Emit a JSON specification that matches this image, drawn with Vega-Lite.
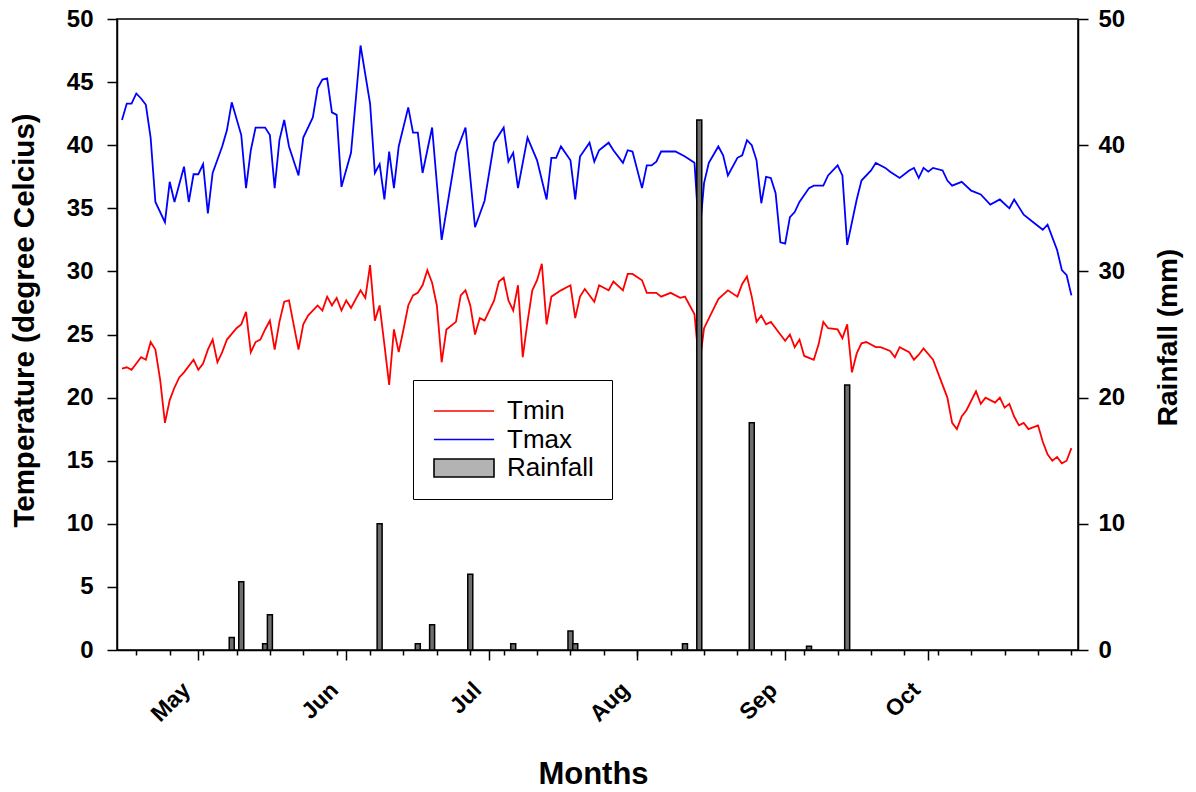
{
"$schema": "https://vega.github.io/schema/vega-lite/v6.json",
"width": 961, "height": 631,
"autosize": "none",
"padding": {"left": 117, "top": 19, "right": 118, "bottom": 142},
"background": "white",
"config": {
  "font": "Liberation Sans",
  "view": {"stroke": "black", "strokeWidth": 1.5},
  "axis": {"domainColor": "black", "tickColor": "black", "domainWidth": 1.5, "tickWidth": 1.5, "labelColor": "black", "titleColor": "black", "grid": false}
},
"datasets": {
"temps": [
{"date":"2019-04-15","series":"Tmax","value":42.0},{"date":"2019-04-16","series":"Tmax","value":43.3},{"date":"2019-04-17","series":"Tmax","value":43.3},{"date":"2019-04-18","series":"Tmax","value":44.1},{"date":"2019-04-19","series":"Tmax","value":43.7},{"date":"2019-04-20","series":"Tmax","value":43.2},{"date":"2019-04-21","series":"Tmax","value":40.6},{"date":"2019-04-22","series":"Tmax","value":35.5},{"date":"2019-04-24","series":"Tmax","value":33.9},{"date":"2019-04-25","series":"Tmax","value":37.1},{"date":"2019-04-26","series":"Tmax","value":35.5},{"date":"2019-04-28","series":"Tmax","value":38.3},{"date":"2019-04-29","series":"Tmax","value":35.5},{"date":"2019-04-30","series":"Tmax","value":37.7},
{"date":"2019-05-01","series":"Tmax","value":37.7},{"date":"2019-05-02","series":"Tmax","value":38.5},{"date":"2019-05-03","series":"Tmax","value":34.6},{"date":"2019-05-04","series":"Tmax","value":37.8},{"date":"2019-05-06","series":"Tmax","value":39.9},{"date":"2019-05-07","series":"Tmax","value":41.2},{"date":"2019-05-08","series":"Tmax","value":43.4},{"date":"2019-05-10","series":"Tmax","value":40.8},{"date":"2019-05-11","series":"Tmax","value":36.6},{"date":"2019-05-12","series":"Tmax","value":39.6},{"date":"2019-05-13","series":"Tmax","value":41.4},{"date":"2019-05-14","series":"Tmax","value":41.4},{"date":"2019-05-15","series":"Tmax","value":41.4},{"date":"2019-05-16","series":"Tmax","value":40.8},{"date":"2019-05-17","series":"Tmax","value":36.6},{"date":"2019-05-18","series":"Tmax","value":40.4},{"date":"2019-05-19","series":"Tmax","value":42.0},{"date":"2019-05-20","series":"Tmax","value":39.9},{"date":"2019-05-22","series":"Tmax","value":37.6},{"date":"2019-05-23","series":"Tmax","value":40.6},{"date":"2019-05-25","series":"Tmax","value":42.2},{"date":"2019-05-26","series":"Tmax","value":44.5},{"date":"2019-05-27","series":"Tmax","value":45.2},{"date":"2019-05-28","series":"Tmax","value":45.3},{"date":"2019-05-29","series":"Tmax","value":42.6},{"date":"2019-05-30","series":"Tmax","value":42.4},{"date":"2019-05-31","series":"Tmax","value":36.7},
{"date":"2019-06-02","series":"Tmax","value":39.4},{"date":"2019-06-03","series":"Tmax","value":43.6},{"date":"2019-06-04","series":"Tmax","value":47.9},{"date":"2019-06-06","series":"Tmax","value":43.3},{"date":"2019-06-07","series":"Tmax","value":37.8},{"date":"2019-06-08","series":"Tmax","value":38.5},{"date":"2019-06-09","series":"Tmax","value":35.7},{"date":"2019-06-10","series":"Tmax","value":39.5},{"date":"2019-06-11","series":"Tmax","value":36.6},{"date":"2019-06-12","series":"Tmax","value":39.9},{"date":"2019-06-14","series":"Tmax","value":43.0},{"date":"2019-06-15","series":"Tmax","value":41.0},{"date":"2019-06-16","series":"Tmax","value":41.0},{"date":"2019-06-17","series":"Tmax","value":37.8},{"date":"2019-06-19","series":"Tmax","value":41.4},{"date":"2019-06-21","series":"Tmax","value":32.5},{"date":"2019-06-24","series":"Tmax","value":39.4},{"date":"2019-06-26","series":"Tmax","value":41.4},{"date":"2019-06-28","series":"Tmax","value":33.5},{"date":"2019-06-30","series":"Tmax","value":35.6},
{"date":"2019-07-02","series":"Tmax","value":40.2},{"date":"2019-07-04","series":"Tmax","value":41.4},{"date":"2019-07-05","series":"Tmax","value":38.7},{"date":"2019-07-06","series":"Tmax","value":39.4},{"date":"2019-07-07","series":"Tmax","value":36.6},{"date":"2019-07-09","series":"Tmax","value":40.6},{"date":"2019-07-11","series":"Tmax","value":38.8},{"date":"2019-07-13","series":"Tmax","value":35.7},{"date":"2019-07-14","series":"Tmax","value":39.0},{"date":"2019-07-15","series":"Tmax","value":39.0},{"date":"2019-07-16","series":"Tmax","value":39.9},{"date":"2019-07-18","series":"Tmax","value":38.8},{"date":"2019-07-19","series":"Tmax","value":35.7},{"date":"2019-07-20","series":"Tmax","value":39.1},{"date":"2019-07-22","series":"Tmax","value":40.2},{"date":"2019-07-23","series":"Tmax","value":38.7},{"date":"2019-07-24","series":"Tmax","value":39.6},{"date":"2019-07-26","series":"Tmax","value":40.2},{"date":"2019-07-27","series":"Tmax","value":39.6},{"date":"2019-07-29","series":"Tmax","value":38.6},{"date":"2019-07-30","series":"Tmax","value":39.6},{"date":"2019-07-31","series":"Tmax","value":39.5},
{"date":"2019-08-02","series":"Tmax","value":36.6},{"date":"2019-08-03","series":"Tmax","value":38.4},{"date":"2019-08-04","series":"Tmax","value":38.4},{"date":"2019-08-05","series":"Tmax","value":38.7},{"date":"2019-08-06","series":"Tmax","value":39.5},{"date":"2019-08-08","series":"Tmax","value":39.5},{"date":"2019-08-09","series":"Tmax","value":39.5},{"date":"2019-08-11","series":"Tmax","value":39.1},{"date":"2019-08-13","series":"Tmax","value":38.6},{"date":"2019-08-14","series":"Tmax","value":32.7},{"date":"2019-08-15","series":"Tmax","value":37.0},{"date":"2019-08-16","series":"Tmax","value":38.6},{"date":"2019-08-18","series":"Tmax","value":39.9},{"date":"2019-08-19","series":"Tmax","value":39.2},{"date":"2019-08-20","series":"Tmax","value":37.6},{"date":"2019-08-22","series":"Tmax","value":39.0},{"date":"2019-08-23","series":"Tmax","value":39.2},{"date":"2019-08-24","series":"Tmax","value":40.4},{"date":"2019-08-25","series":"Tmax","value":40.0},{"date":"2019-08-26","series":"Tmax","value":38.8},{"date":"2019-08-27","series":"Tmax","value":35.4},{"date":"2019-08-28","series":"Tmax","value":37.5},{"date":"2019-08-29","series":"Tmax","value":37.4},{"date":"2019-08-30","series":"Tmax","value":36.2},{"date":"2019-08-31","series":"Tmax","value":32.3},
{"date":"2019-09-01","series":"Tmax","value":32.2},{"date":"2019-09-02","series":"Tmax","value":34.3},{"date":"2019-09-03","series":"Tmax","value":34.7},{"date":"2019-09-04","series":"Tmax","value":35.5},{"date":"2019-09-06","series":"Tmax","value":36.6},{"date":"2019-09-07","series":"Tmax","value":36.8},{"date":"2019-09-09","series":"Tmax","value":36.8},{"date":"2019-09-10","series":"Tmax","value":37.6},{"date":"2019-09-12","series":"Tmax","value":38.4},{"date":"2019-09-13","series":"Tmax","value":37.6},{"date":"2019-09-14","series":"Tmax","value":32.1},{"date":"2019-09-16","series":"Tmax","value":35.7},{"date":"2019-09-17","series":"Tmax","value":37.2},{"date":"2019-09-19","series":"Tmax","value":38.0},{"date":"2019-09-20","series":"Tmax","value":38.6},{"date":"2019-09-22","series":"Tmax","value":38.2},{"date":"2019-09-23","series":"Tmax","value":37.9},{"date":"2019-09-25","series":"Tmax","value":37.4},{"date":"2019-09-27","series":"Tmax","value":38.0},{"date":"2019-09-28","series":"Tmax","value":38.2},{"date":"2019-09-29","series":"Tmax","value":37.4},{"date":"2019-09-30","series":"Tmax","value":38.2},
{"date":"2019-10-01","series":"Tmax","value":37.9},{"date":"2019-10-02","series":"Tmax","value":38.2},{"date":"2019-10-04","series":"Tmax","value":38.0},{"date":"2019-10-05","series":"Tmax","value":37.2},{"date":"2019-10-06","series":"Tmax","value":36.8},{"date":"2019-10-08","series":"Tmax","value":37.1},{"date":"2019-10-10","series":"Tmax","value":36.4},{"date":"2019-10-12","series":"Tmax","value":36.1},{"date":"2019-10-14","series":"Tmax","value":35.3},{"date":"2019-10-16","series":"Tmax","value":35.7},{"date":"2019-10-18","series":"Tmax","value":35.0},{"date":"2019-10-19","series":"Tmax","value":35.7},{"date":"2019-10-21","series":"Tmax","value":34.5},{"date":"2019-10-23","series":"Tmax","value":33.9},{"date":"2019-10-25","series":"Tmax","value":33.3},{"date":"2019-10-26","series":"Tmax","value":33.7},{"date":"2019-10-28","series":"Tmax","value":31.7},{"date":"2019-10-29","series":"Tmax","value":30.1},{"date":"2019-10-30","series":"Tmax","value":29.7},{"date":"2019-10-31","series":"Tmax","value":28.1},
{"date":"2019-04-15","series":"Tmin","value":22.3},{"date":"2019-04-16","series":"Tmin","value":22.4},{"date":"2019-04-17","series":"Tmin","value":22.2},{"date":"2019-04-18","series":"Tmin","value":22.7},{"date":"2019-04-19","series":"Tmin","value":23.2},{"date":"2019-04-20","series":"Tmin","value":23.0},{"date":"2019-04-21","series":"Tmin","value":24.4},{"date":"2019-04-22","series":"Tmin","value":23.8},{"date":"2019-04-23","series":"Tmin","value":21.4},{"date":"2019-04-24","series":"Tmin","value":18.0},{"date":"2019-04-25","series":"Tmin","value":19.8},{"date":"2019-04-26","series":"Tmin","value":20.8},{"date":"2019-04-27","series":"Tmin","value":21.6},{"date":"2019-04-28","series":"Tmin","value":22.0},{"date":"2019-04-30","series":"Tmin","value":23.0},
{"date":"2019-05-01","series":"Tmin","value":22.2},{"date":"2019-05-02","series":"Tmin","value":22.7},{"date":"2019-05-03","series":"Tmin","value":23.8},{"date":"2019-05-04","series":"Tmin","value":24.6},{"date":"2019-05-05","series":"Tmin","value":22.8},{"date":"2019-05-06","series":"Tmin","value":23.6},{"date":"2019-05-07","series":"Tmin","value":24.6},{"date":"2019-05-09","series":"Tmin","value":25.5},{"date":"2019-05-10","series":"Tmin","value":25.8},{"date":"2019-05-11","series":"Tmin","value":26.8},{"date":"2019-05-12","series":"Tmin","value":23.6},{"date":"2019-05-13","series":"Tmin","value":24.4},{"date":"2019-05-14","series":"Tmin","value":24.6},{"date":"2019-05-15","series":"Tmin","value":25.4},{"date":"2019-05-16","series":"Tmin","value":26.1},{"date":"2019-05-17","series":"Tmin","value":23.8},{"date":"2019-05-18","series":"Tmin","value":26.0},{"date":"2019-05-19","series":"Tmin","value":27.6},{"date":"2019-05-20","series":"Tmin","value":27.7},{"date":"2019-05-22","series":"Tmin","value":23.8},{"date":"2019-05-23","series":"Tmin","value":25.8},{"date":"2019-05-24","series":"Tmin","value":26.5},{"date":"2019-05-26","series":"Tmin","value":27.3},{"date":"2019-05-27","series":"Tmin","value":26.9},{"date":"2019-05-28","series":"Tmin","value":28.0},{"date":"2019-05-29","series":"Tmin","value":27.3},{"date":"2019-05-30","series":"Tmin","value":27.9},{"date":"2019-05-31","series":"Tmin","value":26.9},
{"date":"2019-06-01","series":"Tmin","value":27.7},{"date":"2019-06-02","series":"Tmin","value":27.1},{"date":"2019-06-04","series":"Tmin","value":28.5},{"date":"2019-06-05","series":"Tmin","value":27.9},{"date":"2019-06-06","series":"Tmin","value":30.5},{"date":"2019-06-07","series":"Tmin","value":26.1},{"date":"2019-06-08","series":"Tmin","value":27.3},{"date":"2019-06-09","series":"Tmin","value":24.2},{"date":"2019-06-10","series":"Tmin","value":21.0},{"date":"2019-06-11","series":"Tmin","value":25.4},{"date":"2019-06-12","series":"Tmin","value":23.6},{"date":"2019-06-13","series":"Tmin","value":25.4},{"date":"2019-06-14","series":"Tmin","value":27.3},{"date":"2019-06-15","series":"Tmin","value":28.1},{"date":"2019-06-16","series":"Tmin","value":28.3},{"date":"2019-06-17","series":"Tmin","value":28.9},{"date":"2019-06-18","series":"Tmin","value":30.1},{"date":"2019-06-19","series":"Tmin","value":29.1},{"date":"2019-06-20","series":"Tmin","value":27.3},{"date":"2019-06-21","series":"Tmin","value":22.8},{"date":"2019-06-22","series":"Tmin","value":25.4},{"date":"2019-06-24","series":"Tmin","value":26.0},{"date":"2019-06-25","series":"Tmin","value":28.1},{"date":"2019-06-26","series":"Tmin","value":28.5},{"date":"2019-06-27","series":"Tmin","value":27.3},{"date":"2019-06-28","series":"Tmin","value":25.0},{"date":"2019-06-29","series":"Tmin","value":26.3},{"date":"2019-06-30","series":"Tmin","value":26.1},
{"date":"2019-07-02","series":"Tmin","value":27.7},{"date":"2019-07-03","series":"Tmin","value":29.2},{"date":"2019-07-04","series":"Tmin","value":29.5},{"date":"2019-07-05","series":"Tmin","value":27.7},{"date":"2019-07-06","series":"Tmin","value":26.9},{"date":"2019-07-07","series":"Tmin","value":28.9},{"date":"2019-07-08","series":"Tmin","value":23.2},{"date":"2019-07-09","series":"Tmin","value":26.0},{"date":"2019-07-10","series":"Tmin","value":28.5},{"date":"2019-07-11","series":"Tmin","value":29.3},{"date":"2019-07-12","series":"Tmin","value":30.6},{"date":"2019-07-13","series":"Tmin","value":25.8},{"date":"2019-07-14","series":"Tmin","value":28.0},{"date":"2019-07-16","series":"Tmin","value":28.5},{"date":"2019-07-18","series":"Tmin","value":28.9},{"date":"2019-07-19","series":"Tmin","value":26.3},{"date":"2019-07-20","series":"Tmin","value":28.0},{"date":"2019-07-21","series":"Tmin","value":28.6},{"date":"2019-07-23","series":"Tmin","value":27.6},{"date":"2019-07-24","series":"Tmin","value":28.9},{"date":"2019-07-26","series":"Tmin","value":28.5},{"date":"2019-07-27","series":"Tmin","value":29.2},{"date":"2019-07-29","series":"Tmin","value":28.5},{"date":"2019-07-30","series":"Tmin","value":29.8},{"date":"2019-07-31","series":"Tmin","value":29.8},
{"date":"2019-08-02","series":"Tmin","value":29.3},{"date":"2019-08-03","series":"Tmin","value":28.3},{"date":"2019-08-05","series":"Tmin","value":28.3},{"date":"2019-08-06","series":"Tmin","value":28.0},{"date":"2019-08-08","series":"Tmin","value":28.3},{"date":"2019-08-10","series":"Tmin","value":27.9},{"date":"2019-08-11","series":"Tmin","value":28.0},{"date":"2019-08-13","series":"Tmin","value":26.6},{"date":"2019-08-14","series":"Tmin","value":22.5},{"date":"2019-08-15","series":"Tmin","value":25.5},{"date":"2019-08-18","series":"Tmin","value":27.8},{"date":"2019-08-20","series":"Tmin","value":28.5},{"date":"2019-08-22","series":"Tmin","value":28.0},{"date":"2019-08-23","series":"Tmin","value":29.0},{"date":"2019-08-24","series":"Tmin","value":29.6},{"date":"2019-08-25","series":"Tmin","value":28.0},{"date":"2019-08-26","series":"Tmin","value":26.0},{"date":"2019-08-27","series":"Tmin","value":26.5},{"date":"2019-08-28","series":"Tmin","value":25.8},{"date":"2019-08-29","series":"Tmin","value":26.0},{"date":"2019-08-31","series":"Tmin","value":25.0},
{"date":"2019-09-01","series":"Tmin","value":24.5},{"date":"2019-09-02","series":"Tmin","value":25.0},{"date":"2019-09-03","series":"Tmin","value":24.0},{"date":"2019-09-04","series":"Tmin","value":24.6},{"date":"2019-09-05","series":"Tmin","value":23.3},{"date":"2019-09-07","series":"Tmin","value":23.0},{"date":"2019-09-08","series":"Tmin","value":24.2},{"date":"2019-09-09","series":"Tmin","value":26.0},{"date":"2019-09-10","series":"Tmin","value":25.5},{"date":"2019-09-12","series":"Tmin","value":25.4},{"date":"2019-09-13","series":"Tmin","value":24.7},{"date":"2019-09-14","series":"Tmin","value":25.8},{"date":"2019-09-15","series":"Tmin","value":22.0},{"date":"2019-09-16","series":"Tmin","value":23.5},{"date":"2019-09-17","series":"Tmin","value":24.3},{"date":"2019-09-18","series":"Tmin","value":24.4},{"date":"2019-09-20","series":"Tmin","value":24.0},{"date":"2019-09-21","series":"Tmin","value":24.0},{"date":"2019-09-23","series":"Tmin","value":23.7},{"date":"2019-09-24","series":"Tmin","value":23.2},{"date":"2019-09-25","series":"Tmin","value":24.0},{"date":"2019-09-27","series":"Tmin","value":23.6},{"date":"2019-09-28","series":"Tmin","value":23.0},{"date":"2019-09-29","series":"Tmin","value":23.4},{"date":"2019-09-30","series":"Tmin","value":23.9},
{"date":"2019-10-02","series":"Tmin","value":23.0},{"date":"2019-10-03","series":"Tmin","value":22.0},{"date":"2019-10-05","series":"Tmin","value":20.0},{"date":"2019-10-06","series":"Tmin","value":18.0},{"date":"2019-10-07","series":"Tmin","value":17.5},{"date":"2019-10-08","series":"Tmin","value":18.5},{"date":"2019-10-09","series":"Tmin","value":19.0},{"date":"2019-10-11","series":"Tmin","value":20.5},{"date":"2019-10-12","series":"Tmin","value":19.5},{"date":"2019-10-13","series":"Tmin","value":20.0},{"date":"2019-10-15","series":"Tmin","value":19.6},{"date":"2019-10-16","series":"Tmin","value":20.0},{"date":"2019-10-17","series":"Tmin","value":19.2},{"date":"2019-10-18","series":"Tmin","value":19.5},{"date":"2019-10-19","series":"Tmin","value":18.5},{"date":"2019-10-20","series":"Tmin","value":17.8},{"date":"2019-10-21","series":"Tmin","value":18.0},{"date":"2019-10-22","series":"Tmin","value":17.5},{"date":"2019-10-24","series":"Tmin","value":17.8},{"date":"2019-10-25","series":"Tmin","value":16.5},{"date":"2019-10-26","series":"Tmin","value":15.5},{"date":"2019-10-27","series":"Tmin","value":15.0},{"date":"2019-10-28","series":"Tmin","value":15.3},{"date":"2019-10-29","series":"Tmin","value":14.8},{"date":"2019-10-30","series":"Tmin","value":15.0},{"date":"2019-10-31","series":"Tmin","value":16.0}
],
"rain": [
{"date":"2019-05-08","rain":1.0},{"date":"2019-05-10","rain":5.4},{"date":"2019-05-15","rain":0.5},{"date":"2019-05-16","rain":2.8},{"date":"2019-06-08","rain":10.0},{"date":"2019-06-16","rain":0.5},{"date":"2019-06-19","rain":2.0},{"date":"2019-06-27","rain":6.0},{"date":"2019-07-06","rain":0.5},{"date":"2019-07-18","rain":1.5},{"date":"2019-07-19","rain":0.5},{"date":"2019-08-11","rain":0.5},{"date":"2019-08-14","rain":42.0},{"date":"2019-08-25","rain":18.0},{"date":"2019-09-06","rain":0.3},{"date":"2019-09-14","rain":21.0}
]
},
"layer": [
{
  "data": {"name": "temps"},
  "mark": {"type": "line", "strokeWidth": 1.8},
  "encoding": {
    "x": {"field": "date", "type": "temporal",
      "scale": {"type": "utc", "domain": [{"year": 2019, "month": 4, "date": 15, "utc": true}, {"year": 2019, "month": 10, "date": 31, "hours": 8, "utc": true}]},
      "axis": {"orient": "bottom", "format": "%b",
        "values": [{"year":2019,"month":5,"date":1,"utc":true},{"year":2019,"month":6,"date":1,"utc":true},{"year":2019,"month":7,"date":1,"utc":true},{"year":2019,"month":8,"date":1,"utc":true},{"year":2019,"month":9,"date":1,"utc":true},{"year":2019,"month":10,"date":1,"utc":true}],
        "tickSize": 10, "labelAngle": -45, "labelAlign": "right", "labelBaseline": "middle", "labelPadding": 26, "labelOffset": -12,
        "labelFontSize": 23, "labelFontWeight": "bold", "labelFlush": false, "labelOverlap": false,
        "title": "Months", "titleFontSize": 31, "titleFontWeight": "bold", "titleX": 476, "titleY": 133, "titleBaseline": "alphabetic"}
    },
    "y": {"field": "value", "type": "quantitative",
      "scale": {"domain": [0, 50], "nice": false},
      "axis": {"orient": "left", "values": [0,5,10,15,20,25,30,35,40,45,50], "tickSize": 10, "labelPadding": 14,
        "labelFontSize": 24, "labelFontWeight": "bold",
        "title": "Temperature (degree Celcius)", "titleFontSize": 29.5, "titleFontWeight": "bold",
        "titleAngle": 270, "titleX": -93, "titleY": 301, "titleAlign": "center", "titleBaseline": "middle"}
    },
    "color": {"field": "series", "type": "nominal",
      "scale": {"domain": ["Tmin", "Tmax", "Rainfall"], "range": ["#ff0000", "#0000ff", "#000000"]},
      "legend": {"orient": "none", "legendX": 296, "legendY": 361, "title": null,
        "strokeColor": "black", "fillColor": "white", "padding": 18, "rowPadding": 2.5,
        "labelFontSize": 26, "labelOffset": 50, "labelExpr": "datum.label + '\u2003\u2003'", "symbolSize": 400, "symbolStrokeWidth": 1.6, "symbolType": "stroke",
        "encoding": {"symbols": {
          "shape": {"value": {"expr": "datum.value === 'Rainfall' ? 'M-1,-0.9H5V0.9H-1Z' : 'M-1,0H5'"}},
          "fill": {"value": {"expr": "datum.value === 'Rainfall' ? '#b3b3b3' : 'transparent'"}},
          "strokeWidth": {"value": 1.6}
        }}}
    }
  }
},
{
  "data": {"name": "rain"},
  "mark": {"type": "bar", "size": 5, "fill": "#6e6e6e", "stroke": "black", "strokeWidth": 1.5},
  "encoding": {
    "x": {"field": "date", "type": "temporal",
      "scale": {"type": "utc", "domain": [{"year": 2019, "month": 4, "date": 15, "utc": true}, {"year": 2019, "month": 10, "date": 31, "hours": 8, "utc": true}]},
      "axis": {"orient": "bottom", "labels": false, "domain": false, "title": null, "tickSize": 5,
        "values": [{"year":2019,"month":4,"date":18,"utc":true},{"year":2019,"month":4,"date":25,"utc":true},{"year":2019,"month":5,"date":2,"utc":true},{"year":2019,"month":5,"date":9,"utc":true},{"year":2019,"month":5,"date":16,"utc":true},{"year":2019,"month":5,"date":23,"utc":true},{"year":2019,"month":5,"date":30,"utc":true},{"year":2019,"month":6,"date":6,"utc":true},{"year":2019,"month":6,"date":13,"utc":true},{"year":2019,"month":6,"date":20,"utc":true},{"year":2019,"month":6,"date":27,"utc":true},{"year":2019,"month":7,"date":4,"utc":true},{"year":2019,"month":7,"date":11,"utc":true},{"year":2019,"month":7,"date":18,"utc":true},{"year":2019,"month":7,"date":25,"utc":true},{"year":2019,"month":8,"date":1,"utc":true},{"year":2019,"month":8,"date":8,"utc":true},{"year":2019,"month":8,"date":15,"utc":true},{"year":2019,"month":8,"date":22,"utc":true},{"year":2019,"month":8,"date":29,"utc":true},{"year":2019,"month":9,"date":5,"utc":true},{"year":2019,"month":9,"date":12,"utc":true},{"year":2019,"month":9,"date":19,"utc":true},{"year":2019,"month":9,"date":26,"utc":true},{"year":2019,"month":10,"date":3,"utc":true},{"year":2019,"month":10,"date":10,"utc":true},{"year":2019,"month":10,"date":17,"utc":true},{"year":2019,"month":10,"date":24,"utc":true},{"year":2019,"month":10,"date":31,"utc":true}]}
    },
    "y": {"field": "rain", "type": "quantitative",
      "scale": {"domain": [0, 50], "nice": false},
      "axis": {"orient": "right", "values": [0,10,20,30,40,50], "tickSize": 10, "labelPadding": 10,
        "labelFontSize": 24, "labelFontWeight": "bold",
        "title": "Rainfall (mm)", "titleFontSize": 28, "titleFontWeight": "bold",
        "titleAngle": 270, "titleX": 90, "titleY": 318, "titleAlign": "center", "titleBaseline": "middle"}
    }
  }
}
],
"resolve": {"scale": {"y": "independent"}, "axis": {"x": "independent", "y": "independent"}}
}
